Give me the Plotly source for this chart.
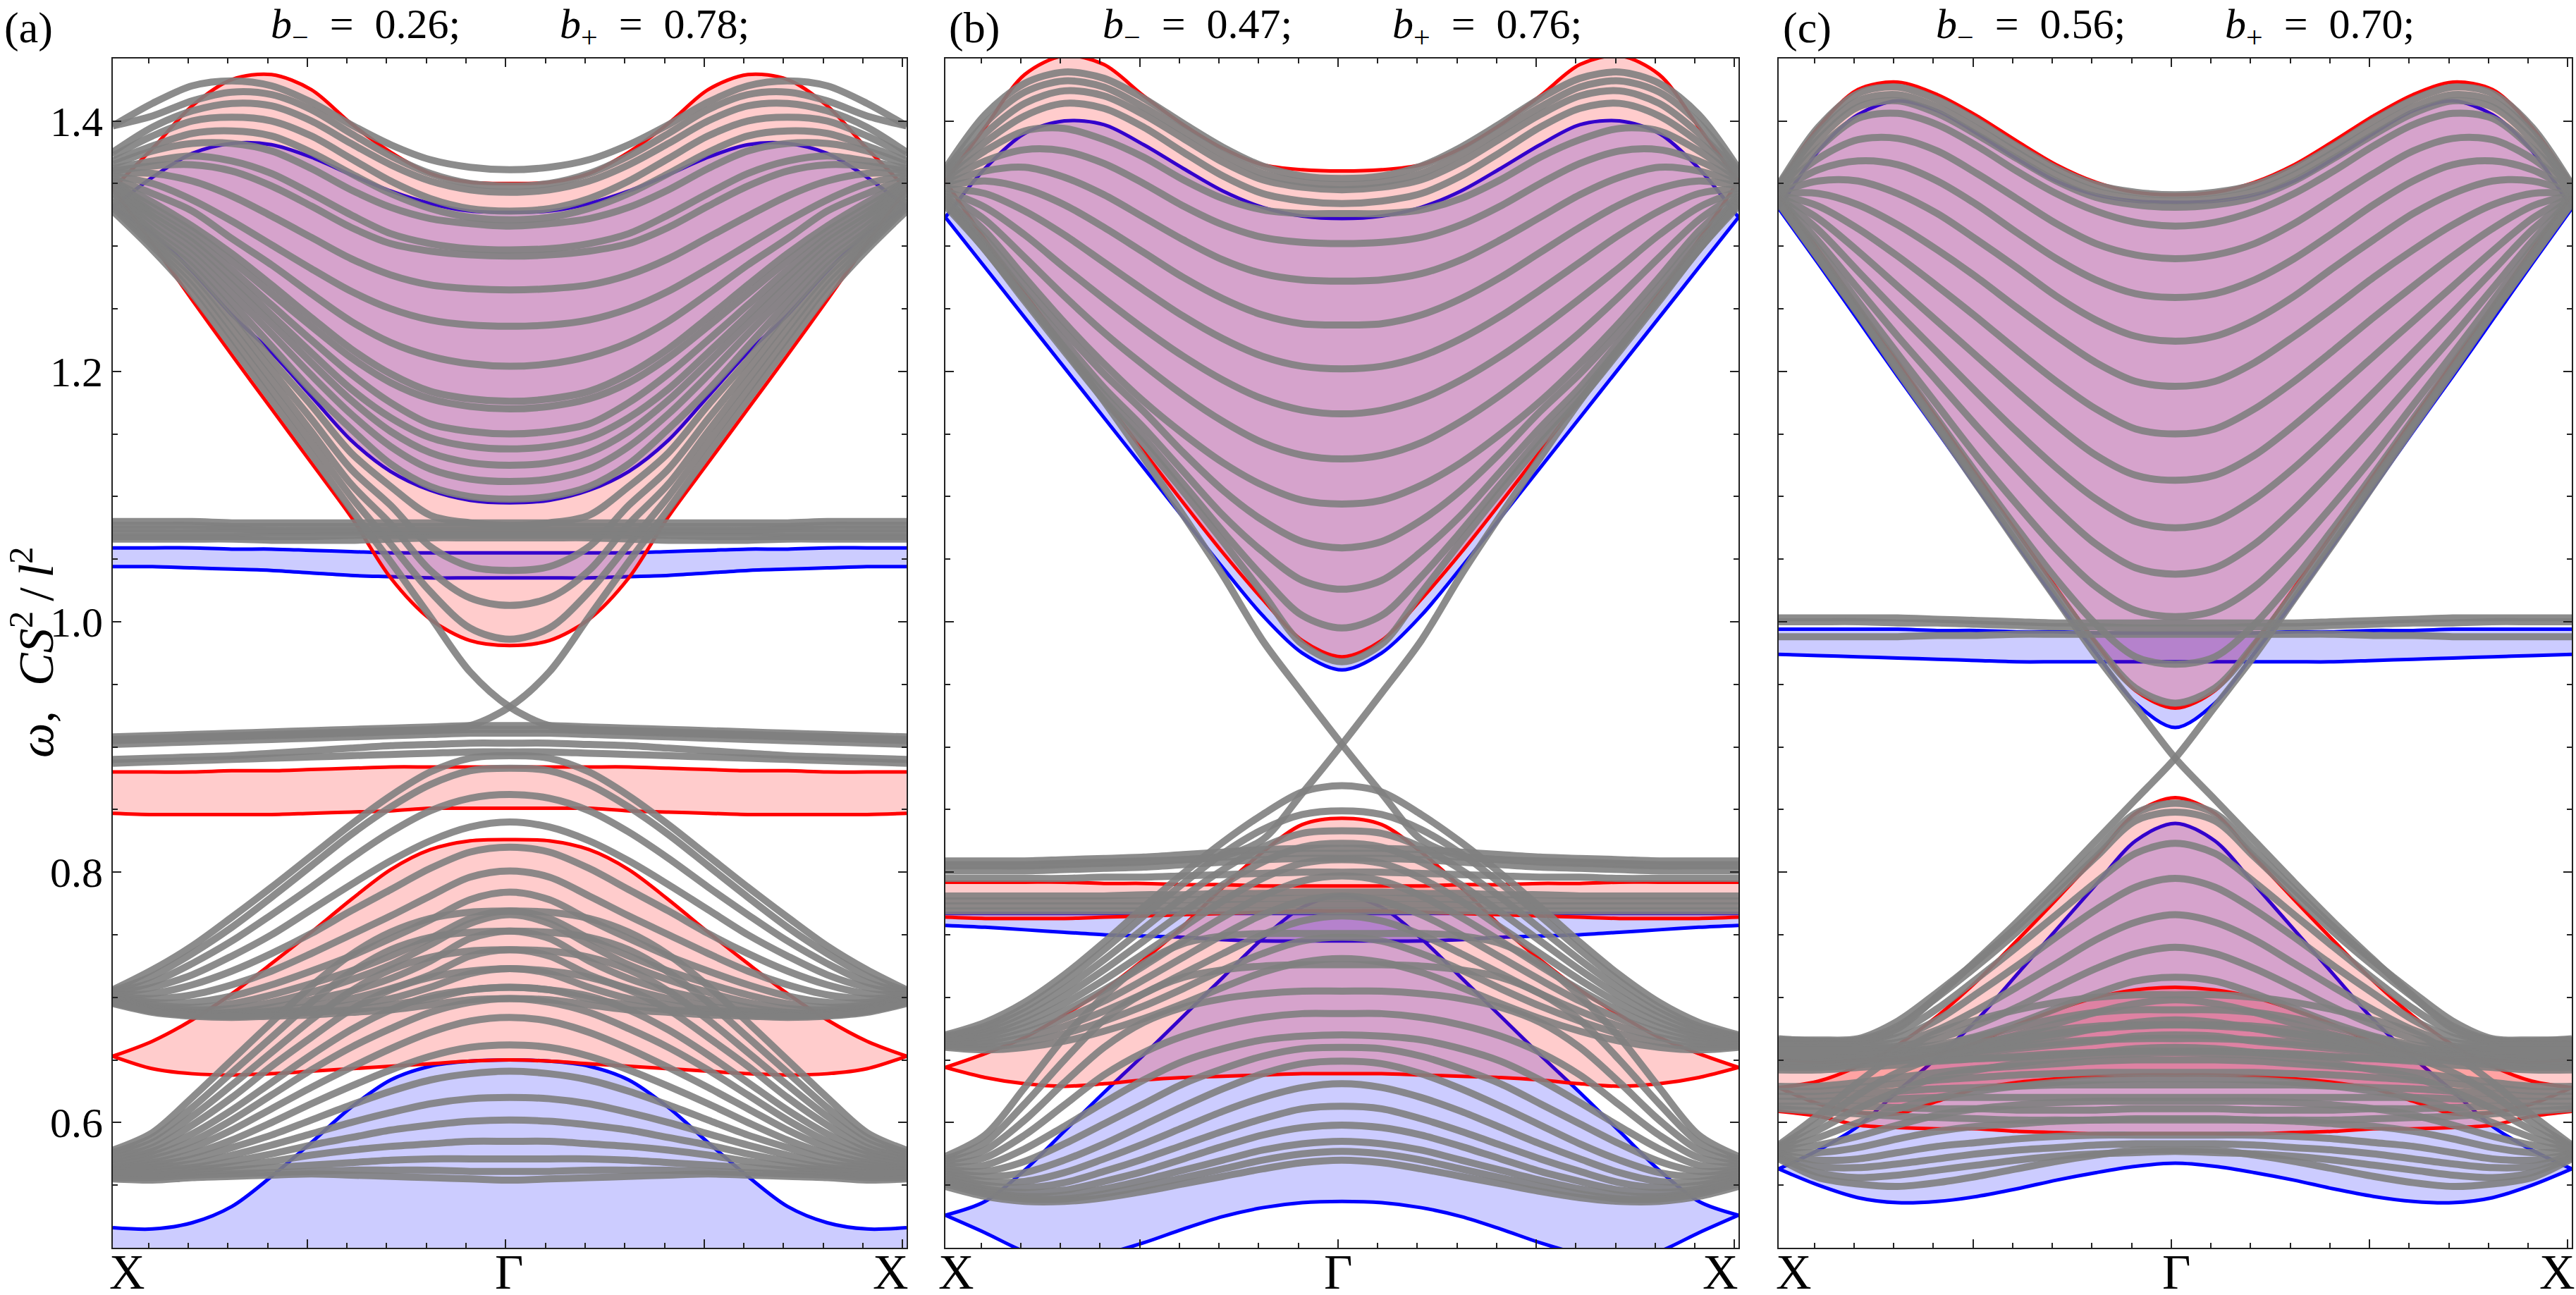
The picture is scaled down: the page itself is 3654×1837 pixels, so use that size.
import plotly.graph_objects as go

W, H = 3654, 1837
k_half = [0.0, 0.1, 0.2, 0.3, 0.4, 0.5, 0.6, 0.7, 0.8, 0.9, 1.0]
y_major = [0.6, 0.8, 1.0, 1.2, 1.4]
y_labels = ["0.6", "0.8", "1.0", "1.2", "1.4"]

# ---------- panel (a) ----------
a_blue_bands = [
    ([1.331,1.355,1.374,1.382,1.381,1.371,1.357,1.344,1.334,1.328,1.327],
     [1.331,1.310,1.280,1.245,1.215,1.180,1.145,1.120,1.105,1.097,1.095]),
    ([1.059,1.059,1.059,1.058,1.058,1.057,1.056,1.055,1.055,1.055,1.055],
     [1.044,1.044,1.043,1.042,1.041,1.039,1.037,1.036,1.035,1.035,1.035]),
    ([.516,.515,.520,.533,.557,.584,.612,.634,.645,.649,.650],
     [.480,.480,.480,.480,.480,.480,.480,.480,.480,.480,.480]),
]
a_red_bands = [
    ([1.346,1.378,1.412,1.433,1.437,1.425,1.398,1.375,1.358,1.351,1.350],
     [1.346,1.302,1.257,1.213,1.170,1.127,1.084,1.035,1.002,.985,.981]),
    ([.880,.880,.880,.881,.881,.882,.883,.884,.884,.884,.884],
     [.847,.846,.846,.846,.846,.847,.848,.849,.851,.851,.851]),
    ([.653,.665,.682,.703,.727,.752,.778,.802,.818,.825,.826],
     [.653,.643,.639,.638,.639,.641,.643,.645,.647,.649,.650]),
]
a_cross = [1.328,1.297,1.262,1.220,1.177,1.134,1.090,1.048,1.004,.960,.932,
           .917,.914,.913,.912,.911,.910,.909,.908,.907,.906]
a_gray = [
    [1.396,1.414,1.428,1.432,1.428,1.415,1.397,1.381,1.369,1.363,1.361],
    [1.396,1.404,1.416,1.423,1.421,1.409,1.390,1.372,1.358,1.350,1.348],
    [1.375,1.395,1.408,1.414,1.412,1.400,1.382,1.365,1.352,1.345,1.343],
    [1.372,1.388,1.400,1.403,1.400,1.388,1.370,1.352,1.338,1.330,1.328],
    [1.368,1.380,1.390,1.392,1.388,1.375,1.358,1.342,1.330,1.323,1.321],
    [1.365,1.376,1.382,1.382,1.376,1.362,1.345,1.331,1.322,1.318,1.316],
    [1.362,1.368,1.372,1.368,1.358,1.342,1.325,1.310,1.302,1.298,1.297],
    [1.360,1.364,1.365,1.360,1.348,1.332,1.315,1.302,1.296,1.293,1.292],
    [1.358,1.358,1.352,1.340,1.324,1.307,1.290,1.277,1.269,1.266,1.265],
    [1.356,1.350,1.337,1.320,1.301,1.282,1.264,1.250,1.241,1.237,1.236],
    [1.354,1.342,1.328,1.306,1.285,1.262,1.240,1.223,1.212,1.206,1.204],
    [1.352,1.335,1.316,1.294,1.269,1.243,1.218,1.198,1.184,1.178,1.176],
    [1.351,1.331,1.312,1.288,1.262,1.236,1.211,1.191,1.178,1.172,1.170],
    [1.349,1.327,1.307,1.281,1.253,1.225,1.198,1.175,1.158,1.152,1.150],
    [1.347,1.324,1.303,1.275,1.245,1.215,1.186,1.163,1.147,1.140,1.138],
    [1.345,1.320,1.298,1.269,1.238,1.207,1.177,1.152,1.135,1.127,1.125],
    [1.343,1.316,1.293,1.262,1.230,1.197,1.166,1.140,1.122,1.114,1.112],
    [1.340,1.312,1.288,1.255,1.220,1.185,1.154,1.126,1.108,1.100,1.098],
    [1.337,1.309,1.283,1.248,1.209,1.173,1.135,1.108,1.085,1.079,1.077],
    [1.335,1.306,1.278,1.241,1.201,1.162,1.122,1.093,1.060,1.044,1.041],
    [1.333,1.303,1.273,1.234,1.193,1.152,1.110,1.078,1.041,1.019,1.013],
    [1.331,1.300,1.268,1.227,1.185,1.143,1.100,1.062,1.024,.995,.986],
    [1.080,1.080,1.080,1.079,1.079,1.079,1.079,1.079,1.079,1.079,1.079],
    [1.077,1.077,1.077,1.076,1.076,1.076,1.076,1.076,1.076,1.076,1.076],
    [1.074,1.074,1.074,1.074,1.073,1.073,1.073,1.073,1.073,1.073,1.073],
    [1.071,1.071,1.071,1.071,1.071,1.071,1.071,1.071,1.071,1.071,1.071],
    [1.068,1.068,1.068,1.068,1.068,1.068,1.069,1.069,1.069,1.069,1.069],
    [1.066,1.066,1.066,1.066,1.065,1.065,1.065,1.066,1.067,1.067,1.067],
    [.908,.909,.910,.911,.912,.913,.914,.915,.916,.917,.917],
    [.905,.906,.907,.908,.909,.910,.911,.912,.913,.914,.914],
    [.902,.903,.904,.905,.906,.907,.908,.909,.910,.911,.911],
    [.890,.891,.892,.893,.895,.897,.899,.901,.902,.903,.903],
    [.887,.888,.889,.890,.891,.892,.893,.894,.895,.896,.896],
    [.706,.722,.741,.764,.788,.813,.838,.861,.880,.891,.893],
    [.705,.717,.735,.756,.780,.805,.830,.852,.870,.881,.883],
    [.704,.712,.727,.745,.766,.788,.811,.832,.849,.859,.862],
    [.703,.708,.718,.733,.750,.770,.790,.809,.825,.836,.840],
    [.702,.703,.710,.721,.735,.751,.769,.786,.803,.816,.820],
    [.701,.699,.702,.710,.721,.735,.750,.765,.781,.796,.801],
    [.700,.696,.696,.701,.710,.721,.733,.747,.762,.778,.784],
    [.699,.694,.692,.695,.702,.711,.721,.733,.747,.763,.769],
    [.699,.692,.690,.691,.696,.704,.714,.726,.742,.759,.766],
    [.698,.691,.688,.688,.692,.698,.705,.715,.729,.747,.753],
    [.697,.690,.687,.687,.689,.693,.699,.707,.718,.733,.738],
    [.696,.689,.686,.686,.688,.690,.694,.699,.708,.719,.723],
    [.696,.689,.686,.685,.686,.688,.690,.694,.699,.706,.708],
    [.695,.688,.685,.684,.685,.686,.688,.690,.694,.698,.699],
    [.578,.592,.620,.650,.680,.709,.734,.752,.763,.768,.769],
    [.576,.588,.612,.640,.668,.696,.720,.738,.748,.752,.753],
    [.574,.584,.605,.630,.656,.682,.705,.722,.732,.737,.738],
    [.572,.580,.598,.620,.645,.668,.690,.706,.716,.721,.723],
    [.570,.577,.591,.610,.632,.654,.674,.690,.701,.706,.708],
    [.568,.574,.585,.602,.622,.642,.660,.675,.688,.696,.699],
    [.566,.571,.580,.594,.611,.628,.644,.659,.672,.681,.684],
    [.564,.568,.575,.586,.600,.615,.629,.642,.653,.660,.662],
    [.563,.566,.571,.580,.590,.602,.614,.625,.634,.639,.641],
    [.562,.564,.567,.574,.582,.591,.600,.608,.615,.619,.620],
    [.561,.562,.564,.569,.575,.582,.588,.594,.598,.601,.602],
    [.560,.560,.562,.565,.569,.574,.578,.581,.583,.585,.585],
    [.558,.558,.560,.562,.564,.566,.568,.570,.571,.571,.571],
    [.556,.556,.558,.559,.560,.561,.562,.562,.562,.561,.561],
    [.555,.554,.556,.557,.558,.559,.558,.557,.556,.555,.554],
]

# ---------- panel (b) ----------
b_blue_bands = [
    ([1.323,1.362,1.390,1.400,1.397,1.381,1.362,1.344,1.331,1.324,1.322],
     [1.323,1.283,1.243,1.203,1.163,1.123,1.083,1.043,1.005,.975,.9615]),
    ([.767,.767,.767,.767,.767,.767,.767,.767,.767,.767,.767],
     [.7575,.756,.754,.752,.750,.749,.748,.746,.745,.745,.745]),
    ([.526,.537,.562,.593,.624,.654,.685,.716,.747,.772,.7815],
     [.526,.512,.497,.489,.495,.504,.515,.525,.532,.536,.537]),
]
b_red_bands = [
    ([1.352,1.395,1.437,1.452,1.445,1.420,1.397,1.378,1.365,1.361,1.360],
     [1.352,1.305,1.262,1.220,1.178,1.136,1.095,1.055,1.018,.985,.972]),
    ([.792,.792,.792,.792,.791,.791,.790,.790,.789,.789,.789],
     [.764,.763,.763,.763,.764,.765,.766,.767,.768,.769,.769]),
    ([.644,.655,.668,.686,.706,.730,.757,.788,.816,.838,.843],
     [.644,.636,.631,.629,.631,.634,.636,.637,.638,.639,.639]),
]
b_cross = [1.335,1.297,1.258,1.218,1.176,1.131,1.085,1.037,.985,.943,.902,
           .863,.826,.813,.810,.809,.808,.807,.806,.806,.806]
b_gray = [
    [1.362,1.405,1.430,1.439,1.434,1.418,1.398,1.379,1.364,1.356,1.354],
    [1.360,1.398,1.423,1.432,1.427,1.411,1.392,1.373,1.358,1.351,1.349],
    [1.358,1.390,1.414,1.424,1.420,1.405,1.386,1.367,1.353,1.347,1.345],
    [1.356,1.383,1.404,1.414,1.410,1.395,1.375,1.356,1.342,1.336,1.334],
    [1.354,1.376,1.392,1.394,1.385,1.371,1.353,1.338,1.329,1.326,1.326],
    [1.352,1.368,1.377,1.376,1.366,1.350,1.332,1.317,1.307,1.303,1.302],
    [1.350,1.360,1.363,1.355,1.341,1.323,1.305,1.289,1.278,1.273,1.272],
    [1.348,1.352,1.346,1.333,1.315,1.295,1.275,1.258,1.245,1.238,1.237],
    [1.346,1.342,1.328,1.309,1.287,1.265,1.244,1.226,1.212,1.204,1.202],
    [1.344,1.331,1.309,1.283,1.258,1.234,1.212,1.193,1.178,1.169,1.166],
    [1.342,1.321,1.291,1.260,1.231,1.205,1.181,1.160,1.143,1.133,1.130],
    [1.340,1.312,1.275,1.239,1.206,1.176,1.150,1.127,1.109,1.097,1.094],
    [1.338,1.306,1.268,1.232,1.198,1.168,1.135,1.105,1.081,1.064,1.059],
    [1.336,1.302,1.262,1.224,1.187,1.155,1.120,1.085,1.056,1.033,1.026],
    [1.334,1.299,1.258,1.219,1.181,1.147,1.110,1.072,1.036,1.005,.995],
    [1.332,1.297,1.256,1.216,1.177,1.142,1.104,1.064,1.023,.982,.968],
    [.809,.809,.809,.810,.811,.812,.814,.816,.818,.819,.819],
    [.805,.805,.805,.806,.807,.808,.810,.812,.814,.815,.815],
    [.801,.801,.801,.802,.803,.804,.806,.808,.810,.811,.811],
    [.795,.795,.795,.795,.796,.796,.797,.798,.799,.800,.800],
    [.781,.781,.781,.781,.781,.782,.782,.783,.783,.784,.784],
    [.777,.777,.777,.777,.777,.777,.778,.778,.779,.779,.779],
    [.773,.773,.773,.773,.773,.773,.773,.774,.774,.774,.774],
    [.769,.769,.769,.769,.769,.769,.769,.769,.769,.769,.769],
    [.670,.680,.696,.718,.744,.772,.799,.824,.846,.864,.869],
    [.669,.677,.692,.713,.738,.765,.791,.815,.834,.846,.849],
    [.668,.675,.688,.707,.730,.755,.780,.802,.820,.831,.833],
    [.667,.672,.684,.701,.722,.745,.768,.790,.808,.820,.823],
    [.666,.670,.680,.695,.714,.735,.756,.777,.795,.807,.810],
    [.665,.668,.676,.689,.706,.725,.745,.764,.781,.793,.797],
    [.664,.665,.672,.683,.697,.714,.732,.750,.766,.777,.781],
    [.662,.663,.668,.677,.689,.703,.719,.735,.750,.761,.765],
    [.661,.660,.664,.671,.681,.693,.707,.722,.735,.745,.748],
    [.660,.658,.660,.665,.673,.683,.695,.708,.720,.728,.731],
    [.573,.590,.628,.668,.701,.727,.743,.749,.751,.751,.751],
    [.571,.584,.615,.650,.682,.703,.716,.722,.725,.726,.726],
    [.569,.578,.602,.632,.660,.680,.692,.699,.703,.705,.705],
    [.567,.572,.590,.614,.638,.656,.669,.678,.684,.687,.687],
    [.565,.566,.579,.597,.616,.634,.649,.659,.666,.669,.670],
    [.563,.561,.569,.583,.599,.615,.631,.643,.653,.659,.660],
    [.561,.557,.560,.570,.583,.598,.613,.627,.639,.647,.649],
    [.559,.553,.553,.560,.571,.583,.596,.609,.620,.628,.631],
    [.557,.550,.548,.552,.561,.571,.582,.593,.603,.611,.613],
    [.555,.547,.544,.546,.553,.561,.571,.581,.590,.596,.598],
    [.553,.545,.541,.542,.547,.554,.562,.570,.578,.583,.585],
    [.551,.543,.539,.539,.543,.549,.556,.563,.570,.575,.577],
    [.549,.541,.537,.537,.540,.545,.551,.557,.563,.568,.570],
]

# ---------- panel (c) ----------
c_blue_bands = [
    ([1.330,1.376,1.405,1.416,1.408,1.390,1.370,1.352,1.341,1.336,1.335],
     [1.330,1.286,1.241,1.196,1.152,1.107,1.062,1.017,.975,.935,.9155]),
    ([.994,.994,.994,.994,.993,.993,.992,.992,.991,.991,.991],
     [.974,.973,.972,.971,.970,.969,.968,.968,.968,.968,.968]),
    ([.563,.578,.597,.625,.652,.682,.718,.754,.790,.825,.839],
     [.563,.550,.540,.536,.537,.541,.547,.554,.560,.565,.5675]),
]
c_red_bands = [
    ([1.349,1.395,1.425,1.431,1.421,1.404,1.384,1.365,1.351,1.343,1.341],
     [1.340,1.297,1.252,1.207,1.162,1.117,1.072,1.027,.983,.945,.931]),
    ([.628,.633,.645,.662,.685,.713,.745,.778,.812,.847,.8595],
     [.628,.615,.608,.607,.617,.627,.632,.635,.637,.638,.638]),
    ([.651,.648,.650,.650,.655,.664,.678,.690,.700,.706,.708],
     [.609,.605,.598,.596,.595,.595,.593,.592,.591,.591,.591]),
]
c_cross = [1.334,1.290,1.246,1.200,1.155,1.109,1.063,1.018,.973,.932,.891,
           .858,.825,.792,.760,.730,.701,.675,.665,.665,.667]
c_gray = [
    [1.349,1.395,1.422,1.427,1.417,1.400,1.380,1.362,1.349,1.343,1.341],
    [1.348,1.390,1.416,1.421,1.411,1.394,1.375,1.357,1.344,1.338,1.336],
    [1.347,1.385,1.411,1.416,1.406,1.389,1.370,1.352,1.339,1.333,1.331],
    [1.346,1.378,1.402,1.406,1.397,1.380,1.360,1.342,1.328,1.319,1.316],
    [1.345,1.370,1.385,1.386,1.376,1.358,1.338,1.318,1.302,1.293,1.290],
    [1.344,1.361,1.368,1.365,1.352,1.333,1.311,1.290,1.273,1.262,1.259],
    [1.343,1.352,1.352,1.342,1.326,1.305,1.283,1.260,1.241,1.228,1.224],
    [1.342,1.342,1.333,1.317,1.297,1.275,1.251,1.228,1.207,1.192,1.188],
    [1.341,1.332,1.314,1.292,1.268,1.243,1.217,1.192,1.170,1.154,1.150],
    [1.340,1.322,1.296,1.268,1.240,1.212,1.184,1.157,1.133,1.117,1.113],
    [1.339,1.313,1.280,1.247,1.215,1.183,1.152,1.123,1.098,1.080,1.075],
    [1.338,1.304,1.266,1.228,1.192,1.156,1.122,1.090,1.062,1.043,1.038],
    [1.337,1.298,1.256,1.214,1.173,1.132,1.094,1.058,1.028,1.009,1.004],
    [1.336,1.294,1.250,1.206,1.162,1.118,1.075,1.034,.998,.972,.966],
    [1.335,1.291,1.247,1.202,1.157,1.112,1.067,1.024,.982,.947,.935],
    [1.003,1.003,1.003,1.003,1.002,1.001,1.000,.999,.999,.999,.999],
    [1.000,1.000,1.000,.999,.999,.998,.997,.996,.996,.995,.995],
    [.988,.988,.988,.988,.989,.989,.990,.990,.990,.990,.990],
    [.666,.666,.667,.681,.704,.729,.756,.786,.817,.847,.855],
    [.665,.665,.666,.677,.700,.725,.752,.782,.812,.841,.848],
    [.664,.664,.665,.672,.691,.715,.740,.766,.792,.815,.823],
    [.663,.663,.664,.668,.682,.703,.725,.748,.770,.788,.795],
    [.662,.662,.662,.664,.674,.690,.708,.727,.746,.760,.766],
    [.660,.660,.660,.661,.667,.678,.692,.708,.723,.735,.740],
    [.658,.658,.658,.659,.662,.669,.679,.691,.703,.713,.716],
    [.656,.656,.656,.657,.659,.663,.670,.679,.688,.695,.698],
    [.654,.654,.654,.655,.657,.660,.664,.669,.675,.680,.682],
    [.652,.652,.652,.653,.654,.656,.659,.662,.665,.669,.670],
    [.650,.650,.650,.650,.650,.651,.652,.654,.656,.659,.660],
    [.648,.648,.650,.654,.660,.668,.676,.683,.688,.690,.690],
    [.646,.646,.648,.652,.657,.663,.669,.674,.677,.678,.678],
    [.644,.644,.646,.649,.653,.657,.661,.664,.666,.667,.667],
    [.642,.642,.644,.646,.649,.651,.653,.655,.656,.657,.657],
    [.629,.629,.632,.636,.640,.643,.645,.647,.649,.650,.650],
    [.625,.625,.628,.631,.634,.636,.638,.639,.640,.640,.640],
    [.621,.621,.623,.625,.627,.628,.629,.630,.630,.630,.630],
    [.617,.617,.618,.619,.620,.620,.620,.620,.620,.620,.620],
    [.613,.613,.613,.612,.611,.611,.610,.610,.610,.611,.611],
    [.611,.609,.607,.605,.604,.603,.602,.602,.602,.603,.603],
    [.582,.606,.632,.655,.672,.682,.690,.696,.700,.702,.702],
    [.581,.600,.622,.640,.652,.660,.666,.671,.675,.677,.678],
    [.580,.594,.611,.625,.636,.642,.647,.651,.654,.655,.656],
    [.579,.588,.600,.611,.620,.625,.629,.632,.634,.635,.635],
    [.578,.582,.589,.598,.606,.611,.614,.616,.617,.617,.617],
    [.577,.576,.580,.587,.593,.597,.599,.601,.602,.602,.602],
    [.575,.570,.571,.576,.581,.584,.587,.589,.590,.590,.590],
    [.574,.565,.564,.567,.571,.575,.578,.580,.582,.583,.583],
    [.572,.560,.556,.558,.562,.566,.570,.573,.575,.576,.577],
    [.571,.556,.551,.549,.552,.557,.563,.569,.574,.578,.578],
]

titles = [("0.26", "0.78"), ("0.47", "0.76"), ("0.56", "0.70")]
panel_tags = ["(a)", "(b)", "(c)"]

# pixel layout of the page
px_x = [(160, 1286), (1341, 2466), (2523, 3648)]
px_y = (82.7, 1770)
title_px = [(518, 928), (1698, 2109), (2880, 3290)]
tag_px = [4, 1344, 2527]
k_label_px = [(180, 722, 1263), (1356, 1898, 2440), (2544, 3087, 3627)]

SERIF = "Liberation Serif"
GRAY = "rgba(128,128,128,0.9)"
x_full = k_half + [2 - v for v in k_half[-2::-1]]


def full(y):
    return list(y) + list(y[-2::-1])


fig = go.Figure()


def add_band(ax, upper, lower, line, fill):
    fig.add_trace(go.Scatter(x=x_full, y=full(lower), mode="lines", xaxis=f"x{ax}", yaxis=f"y{ax}",
                             line=dict(color=line, width=5, shape="spline", smoothing=0.9),
                             showlegend=False, hoverinfo="skip"))
    fig.add_trace(go.Scatter(x=x_full, y=full(upper), mode="lines", xaxis=f"x{ax}", yaxis=f"y{ax}",
                             line=dict(color=line, width=5, shape="spline", smoothing=0.9),
                             fill="tonexty", fillcolor=fill,
                             showlegend=False, hoverinfo="skip"))


def add_gray(ax, y):
    fig.add_trace(go.Scatter(x=x_full, y=y, mode="lines", xaxis=f"x{ax}", yaxis=f"y{ax}",
                             line=dict(color=GRAY, width=10, shape="spline", smoothing=0.9),
                             showlegend=False, hoverinfo="skip"))


panels = [(a_blue_bands, a_red_bands, a_gray, a_cross),
          (b_blue_bands, b_red_bands, b_gray, b_cross),
          (c_blue_bands, c_red_bands, c_gray, c_cross)]
for i, (blue, red, gray, cross) in enumerate(panels):
    ax = i + 1
    for up, lo in blue:
        add_band(ax, up, lo, "#0000ff", "rgba(0,0,255,0.2)")
    for up, lo in red:
        add_band(ax, up, lo, "#ff0000", "rgba(255,0,0,0.2)")
    for y in gray:
        add_gray(ax, full(y))
    add_gray(ax, cross)
    add_gray(ax, cross[::-1])

layout = dict(width=W, height=H, margin=dict(l=0, r=0, t=0, b=0), paper_bgcolor="white",
              plot_bgcolor="white", showlegend=False)
for i in range(3):
    s = "" if i == 0 else str(i + 1)
    layout[f"xaxis{s}"] = dict(
        domain=[px_x[i][0] / W, px_x[i][1] / W], range=[0, 2], anchor=f"y{s}" if s else "y",
        showgrid=False, zeroline=False, showline=True, linecolor="#222", linewidth=2, mirror="allticks",
        ticks="inside", ticklen=12, tickwidth=2, tickcolor="#222", tick0=0.49, dtick=0.5, showticklabels=False,
        minor=dict(ticks="inside", ticklen=7, tickwidth=1.5, tickcolor="#222", tick0=0.09, dtick=0.1),
    )
    layout[f"yaxis{s}"] = dict(
        domain=[1 - px_y[1] / H, 1 - px_y[0] / H], range=[0.5, 1.45], anchor=f"x{s}" if s else "x",
        showgrid=False, zeroline=False, showline=True, linecolor="#222", linewidth=2, mirror="allticks",
        ticks="inside", ticklen=12, tickwidth=2, tickcolor="#222", tickmode="array",
        tickvals=y_major, ticktext=y_labels, showticklabels=(i == 0),
        tickfont=dict(family=SERIF, size=60, color="black"),
        minor=dict(ticks="inside", ticklen=7, tickwidth=1.5, tickcolor="#222", tick0=0.5, dtick=0.05),
    )

ann = []


def text(px, py, s, size, angle=0, xanchor="center"):
    ann.append(dict(xref="paper", yref="paper", x=px / W, y=1 - py / H, text=s, showarrow=False,
                    xanchor=xanchor, yanchor="middle", textangle=angle,
                    font=dict(family=SERIF, size=size, color="black")))


NB = "\u00a0\u00a0"
for i in range(3):
    bm, bp = titles[i]
    text(title_px[i][0], 38, f"<i>b</i><sub>−</sub>{NB}={NB}{bm};", 60)
    text(title_px[i][1], 38, f"<i>b</i><sub>+</sub>{NB}={NB}{bp};", 60)
    text(tag_px[i], 40, panel_tags[i], 62, xanchor="left")
    for px, s in zip(k_label_px[i], ["X", "Γ", "X"]):
        text(px, 1804, s, 70)
text(46, 925, "<i>ω</i>,\u00a0\u00a0<i>CS</i><sup>2</sup>\u2009/\u2009<i>l</i><sup>2</sup>", 70, angle=-90)
layout["annotations"] = ann
fig.update_layout(**layout)
fig.write_html("out.html", config={"displayModeBar": False},
               post_script="document.body.style.margin='0';")
